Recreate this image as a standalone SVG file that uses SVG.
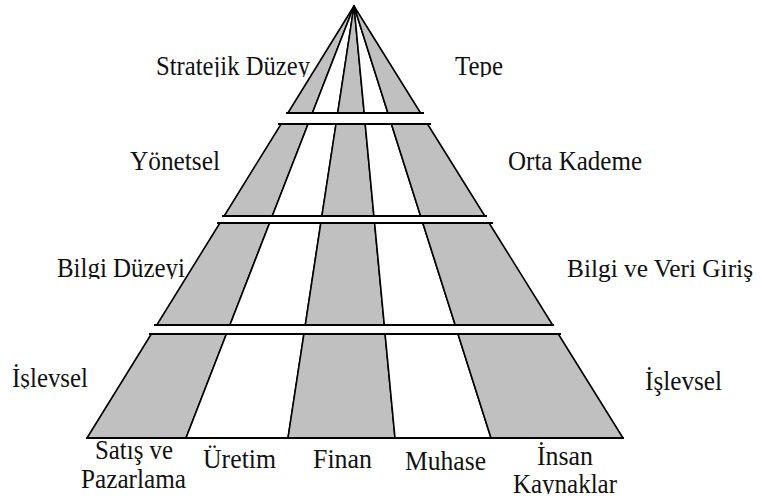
<svg xmlns="http://www.w3.org/2000/svg" width="762" height="501" viewBox="0 0 762 501">
  <style>
    .band { stroke: #000; stroke-width: 1.6; stroke-linejoin: round; }
    .g { fill: #c0c0c0; }
    .w { fill: #fff; }
    .rule { stroke: #000; stroke-width: 1.8; fill: none; }
    .lbl { font-family: "Liberation Serif", "Times New Roman", serif; font-size: 27px; fill: #111; }
    .narrow { font-size: 25px; }
  </style>
  <defs>
    <!-- text boxes that cut off the letters below the baseline -->
    <clipPath id="cutTop"><rect x="0" y="0" width="762" height="77"/></clipPath>
    <clipPath id="cutBilgi"><rect x="0" y="0" width="300" height="279"/></clipPath>
    <clipPath id="cutIslev"><rect x="0" y="0" width="120" height="388.5"/></clipPath>
    <clipPath id="cutKay"><rect x="480" y="0" width="282" height="494"/></clipPath>
  </defs>
  <rect width="762" height="501" fill="#fff"/>

  <!-- pyramid: four tiers, five stripes radiating from the apex -->
  <g id="tier-top">
    <polygon class="band g" points="354,6 287.9,113 312.4,113"/>
    <polygon class="band w" points="354,6 312.4,113 337.7,113"/>
    <polygon class="band g" points="354,6 337.7,113 364.2,113"/>
    <polygon class="band w" points="354,6 364.2,113 387.9,113"/>
    <polygon class="band g" points="354,6 387.9,113 420.6,113"/>
    <line class="rule" x1="286" y1="113" x2="424" y2="113"/>
  </g>
  <g id="tier-middle">
    <polygon class="band g" points="281.1,124 308.1,124 272.3,216 224.2,216"/>
    <polygon class="band w" points="308.1,124 336,124 321.9,216 272.3,216"/>
    <polygon class="band g" points="336,124 365.2,124 373.9,216 321.9,216"/>
    <polygon class="band w" points="365.2,124 391.4,124 420.6,216 373.9,216"/>
    <polygon class="band g" points="391.4,124 427.5,124 484.8,216 420.6,216"/>
    <line class="rule" x1="278" y1="124" x2="431" y2="124"/>
    <line class="rule" x1="222" y1="216" x2="487" y2="216"/>
  </g>
  <g id="tier-knowledge">
    <polygon class="band g" points="219.9,223 269.6,223 229.9,325 156.8,325"/>
    <polygon class="band w" points="269.6,223 320.8,223 305.3,325 229.9,325"/>
    <polygon class="band g" points="320.8,223 374.6,223 384.3,325 305.3,325"/>
    <polygon class="band w" points="374.6,223 422.8,223 455.2,325 384.3,325"/>
    <polygon class="band g" points="422.8,223 489.1,223 552.6,325 455.2,325"/>
    <line class="rule" x1="217" y1="223" x2="493" y2="223"/>
    <line class="rule" x1="154" y1="325" x2="554" y2="325"/>
  </g>
  <g id="tier-functional">
    <polygon class="band g" points="151.3,334 226.4,334 186,438 87,438"/>
    <polygon class="band w" points="226.4,334 303.9,334 288,438 186,438"/>
    <polygon class="band g" points="303.9,334 385.1,334 395,438 288,438"/>
    <polygon class="band w" points="385.1,334 458,334 491,438 395,438"/>
    <polygon class="band g" points="458,334 558.3,334 623,438 491,438"/>
    <line class="rule" x1="149" y1="334" x2="561" y2="334"/>
    <line class="rule" x1="86" y1="438" x2="624" y2="438"/>
  </g>

  <!-- level names, left side -->
  <g id="label-strategic"><text class="lbl" x="156" y="75" textLength="154" lengthAdjust="spacingAndGlyphs" clip-path="url(#cutTop)">Stratejik Düzey</text></g>
  <g id="label-managerial"><text class="lbl" x="130" y="170" textLength="90" lengthAdjust="spacingAndGlyphs">Yönetsel</text></g>
  <g id="label-knowledge"><text class="lbl" x="57" y="277" textLength="128" lengthAdjust="spacingAndGlyphs" clip-path="url(#cutBilgi)">Bilgi Düzeyi</text></g>
  <g id="label-functional-left"><text class="lbl" x="12" y="387" textLength="76" lengthAdjust="spacingAndGlyphs" clip-path="url(#cutIslev)">İşlevsel</text></g>

  <!-- management layers, right side -->
  <g id="label-top"><text class="lbl" x="455" y="75" textLength="48" lengthAdjust="spacingAndGlyphs" clip-path="url(#cutTop)">Tepe</text></g>
  <g id="label-middle"><text class="lbl" x="508" y="170" textLength="134" lengthAdjust="spacingAndGlyphs">Orta Kademe</text></g>
  <g id="label-data"><text class="lbl narrow" x="567" y="277" textLength="186" lengthAdjust="spacingAndGlyphs">Bilgi ve Veri Giriş</text></g>
  <g id="label-functional-right"><text class="lbl" x="645" y="390" textLength="77" lengthAdjust="spacingAndGlyphs">İşlevsel</text></g>

  <!-- departments under the base -->
  <g id="dept-sales">
    <text class="lbl" x="95" y="459" textLength="78" lengthAdjust="spacingAndGlyphs">Satış ve</text>
    <text class="lbl" x="81" y="488" textLength="105" lengthAdjust="spacingAndGlyphs">Pazarlama</text>
  </g>
  <g id="dept-production"><text class="lbl" x="203" y="468" textLength="73" lengthAdjust="spacingAndGlyphs">Üretim</text></g>
  <g id="dept-finance"><text class="lbl" x="313" y="468" textLength="59" lengthAdjust="spacingAndGlyphs">Finan</text></g>
  <g id="dept-accounting"><text class="lbl" x="405" y="470" textLength="81" lengthAdjust="spacingAndGlyphs">Muhase</text></g>
  <g id="dept-hr" clip-path="url(#cutKay)">
    <text class="lbl" x="537" y="465" textLength="56" lengthAdjust="spacingAndGlyphs">İnsan</text>
    <text class="lbl" x="513" y="493" textLength="104" lengthAdjust="spacingAndGlyphs">Kaynaklar</text>
  </g>
</svg>
